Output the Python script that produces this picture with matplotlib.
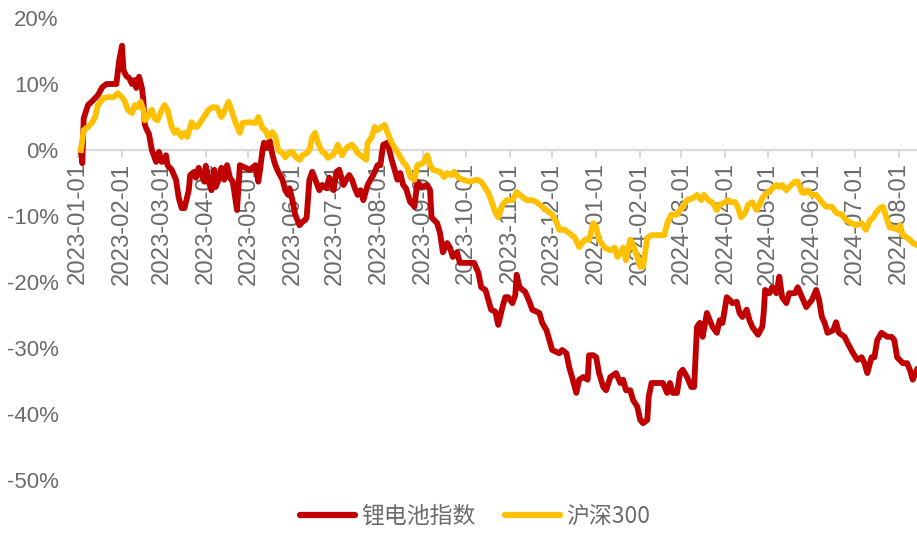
import pandas as pd
import numpy as np
import matplotlib
matplotlib.use('Agg')
import matplotlib.pyplot as plt
import matplotlib.dates as mdates
from matplotlib.ticker import FuncFormatter

# 锂电池指数 cumulative return (%)
lithium_dates = [
    '2023-01-03', '2023-01-04', '2023-01-05', '2023-01-08', '2023-01-11', '2023-01-15', '2023-01-18', '2023-01-21',
    '2023-01-28', '2023-01-30', '2023-02-01', '2023-02-02', '2023-02-04', '2023-02-06', '2023-02-08', '2023-02-10',
    '2023-02-11', '2023-02-13', '2023-02-15', '2023-02-16', '2023-02-17', '2023-02-18', '2023-02-20', '2023-02-22',
    '2023-02-24', '2023-02-25', '2023-02-27', '2023-03-01', '2023-03-03', '2023-03-04', '2023-03-05', '2023-03-08',
    '2023-03-11', '2023-03-13', '2023-03-15', '2023-03-17', '2023-03-20', '2023-03-21', '2023-03-24', '2023-03-25',
    '2023-03-27', '2023-03-29', '2023-03-31', '2023-04-01', '2023-04-03', '2023-04-05', '2023-04-07', '2023-04-08',
    '2023-04-10', '2023-04-12', '2023-04-14', '2023-04-16', '2023-04-18', '2023-04-20', '2023-04-23', '2023-04-25',
    '2023-04-28', '2023-05-02', '2023-05-06', '2023-05-08', '2023-05-09', '2023-05-11', '2023-05-12', '2023-05-14',
    '2023-05-16', '2023-05-18', '2023-05-20', '2023-05-22', '2023-05-25', '2023-05-27', '2023-05-29', '2023-05-30',
    '2023-06-01', '2023-06-03', '2023-06-06', '2023-06-08', '2023-06-10', '2023-06-11', '2023-06-13', '2023-06-15',
    '2023-06-18', '2023-06-20', '2023-06-22', '2023-06-25', '2023-06-27', '2023-06-30', '2023-07-02', '2023-07-04',
    '2023-07-07', '2023-07-09', '2023-07-11', '2023-07-13', '2023-07-15', '2023-07-17', '2023-07-19', '2023-07-21',
    '2023-07-24', '2023-07-26', '2023-07-28', '2023-07-31', '2023-08-02', '2023-08-04', '2023-08-07', '2023-08-10',
    '2023-08-12', '2023-08-14', '2023-08-16', '2023-08-18', '2023-08-20', '2023-08-23', '2023-08-25', '2023-08-26',
    '2023-08-28', '2023-08-31', '2023-09-04', '2023-09-06', '2023-09-07', '2023-09-11', '2023-09-13', '2023-09-15',
    '2023-09-18', '2023-09-20', '2023-09-22', '2023-09-25', '2023-09-27', '2023-10-02', '2023-10-07', '2023-10-10',
    '2023-10-12', '2023-10-15', '2023-10-17', '2023-10-19', '2023-10-22', '2023-10-24', '2023-10-27', '2023-10-29',
    '2023-10-31', '2023-11-03', '2023-11-05', '2023-11-06', '2023-11-08', '2023-11-12', '2023-11-15', '2023-11-17',
    '2023-11-22', '2023-11-24', '2023-11-27', '2023-11-29', '2023-12-01', '2023-12-04', '2023-12-06', '2023-12-08',
    '2023-12-11', '2023-12-13', '2023-12-15', '2023-12-18', '2023-12-20', '2023-12-23', '2023-12-26', '2023-12-27',
    '2023-12-30', '2024-01-01', '2024-01-03', '2024-01-06', '2024-01-08', '2024-01-11', '2024-01-13', '2024-01-15',
    '2024-01-18', '2024-01-20', '2024-01-22', '2024-01-25', '2024-01-27', '2024-01-30', '2024-02-01', '2024-02-03',
    '2024-02-06', '2024-02-07', '2024-02-09', '2024-02-13', '2024-02-17', '2024-02-20', '2024-02-22', '2024-02-24',
    '2024-02-27', '2024-02-29', '2024-03-02', '2024-03-05', '2024-03-08', '2024-03-10', '2024-03-12', '2024-03-14',
    '2024-03-16', '2024-03-19', '2024-03-21', '2024-03-23', '2024-03-26', '2024-03-28', '2024-03-30', '2024-04-02',
    '2024-04-04', '2024-04-06', '2024-04-09', '2024-04-11', '2024-04-13', '2024-04-16', '2024-04-18', '2024-04-20',
    '2024-04-24', '2024-04-27', '2024-04-28', '2024-04-29', '2024-05-02', '2024-05-04', '2024-05-07', '2024-05-09',
    '2024-05-11', '2024-05-14', '2024-05-16', '2024-05-20', '2024-05-22', '2024-05-25', '2024-05-28', '2024-06-01',
    '2024-06-04', '2024-06-06', '2024-06-08', '2024-06-10', '2024-06-12', '2024-06-16', '2024-06-18', '2024-06-20',
    '2024-06-24', '2024-06-26', '2024-06-30', '2024-07-03', '2024-07-06', '2024-07-08', '2024-07-10', '2024-07-13',
    '2024-07-15', '2024-07-17', '2024-07-20', '2024-07-24', '2024-07-27', '2024-07-29', '2024-07-31', '2024-08-04',
    '2024-08-07', '2024-08-09', '2024-08-11', '2024-08-14',
]
lithium_vals = [
    0.0, -2.0, 4.8, 6.8, 7.4, 8.3, 9.5, 10.0,
    10.0, 13.6, 15.8, 12.1, 11.2, 10.9, 10.0, 10.6,
    9.4, 11.1, 9.4, 7.6, 3.9, 3.3, 2.4, 0.0,
    -1.2, -1.8, -0.3, -1.8, -1.5, -0.8, -2.3, -3.0,
    -4.5, -7.3, -8.8, -8.8, -6.1, -3.8, -3.3, -4.2,
    -2.7, -3.8, -4.8, -2.4, -4.8, -6.1, -3.0, -5.6,
    -4.5, -2.7, -4.5, -2.3, -4.2, -4.8, -9.1, -2.3,
    -2.6, -3.0, -2.3, -4.8, -3.3, 0.0, 1.1, 0.3,
    1.4, -0.8, -2.3, -3.3, -4.5, -6.1, -6.8, -5.8,
    -7.6, -9.8, -11.4, -10.9, -10.6, -10.3, -4.5, -3.3,
    -5.0, -6.1, -5.3, -5.8, -4.2, -6.1, -3.3, -3.0,
    -5.3, -4.5, -3.8, -4.5, -5.8, -6.8, -6.1, -7.6,
    -5.3, -4.5, -3.8, -2.3, -2.3, 0.8, 1.1, -1.5,
    -3.0, -4.5, -3.5, -5.3, -5.8, -7.9, -8.3, -8.6,
    -4.8, -5.6, -5.3, -6.1, -10.2, -11.1, -12.6, -15.5,
    -14.1, -14.8, -16.2, -15.5, -17.1, -17.1, -17.1, -18.6,
    -20.8, -21.2, -22.7, -24.2, -24.5, -26.5, -23.8, -22.3,
    -22.3, -23.2, -22.0, -18.9, -20.8, -21.5, -23.0, -24.2,
    -24.7, -26.2, -27.3, -28.8, -30.3, -30.6, -30.8, -30.3,
    -30.8, -32.9, -34.4, -36.8, -34.8, -34.4, -34.8, -31.1,
    -31.1, -31.4, -33.8, -35.9, -36.4, -34.4, -34.1, -33.8,
    -35.3, -34.8, -36.4, -36.4, -37.9, -38.9, -40.9, -41.4,
    -40.9, -37.4, -35.3, -35.3, -35.3, -36.8, -35.3, -36.8,
    -36.8, -33.8, -33.3, -34.4, -35.9, -35.9, -26.8, -26.2,
    -28.3, -24.7, -25.8, -26.8, -27.7, -25.8, -26.2, -22.3,
    -22.7, -23.2, -23.0, -24.7, -25.3, -24.2, -25.8, -26.8,
    -28.0, -26.8, -24.7, -21.2, -21.7, -20.8, -21.7, -19.2,
    -22.3, -23.2, -21.7, -21.7, -20.8, -22.3, -23.8, -22.7,
    -21.2, -22.7, -25.3, -26.2, -27.7, -27.3, -26.1, -27.7,
    -28.3, -29.2, -30.8, -31.8, -31.4, -32.3, -33.8, -31.4,
    -31.4, -28.8, -27.7, -28.3, -28.3, -28.8, -31.4, -32.3,
    -32.3, -33.3, -34.8, -33.3,
]

# 沪深300 cumulative return (%)
hs300_dates = [
    '2023-01-03', '2023-01-04', '2023-01-05', '2023-01-08', '2023-01-11', '2023-01-13', '2023-01-15', '2023-01-19',
    '2023-01-22', '2023-01-26', '2023-01-29', '2023-02-01', '2023-02-03', '2023-02-05', '2023-02-08', '2023-02-10',
    '2023-02-12', '2023-02-14', '2023-02-16', '2023-02-17', '2023-02-19', '2023-02-22', '2023-02-24', '2023-02-26',
    '2023-03-01', '2023-03-03', '2023-03-05', '2023-03-08', '2023-03-10', '2023-03-12', '2023-03-15', '2023-03-17',
    '2023-03-19', '2023-03-22', '2023-03-24', '2023-03-26', '2023-03-30', '2023-04-03', '2023-04-06', '2023-04-09',
    '2023-04-12', '2023-04-14', '2023-04-17', '2023-04-19', '2023-04-22', '2023-04-25', '2023-04-27', '2023-05-01',
    '2023-05-06', '2023-05-08', '2023-05-11', '2023-05-13', '2023-05-15', '2023-05-18', '2023-05-20', '2023-05-22',
    '2023-05-25', '2023-05-27', '2023-05-29', '2023-06-01', '2023-06-04', '2023-06-06', '2023-06-08', '2023-06-11',
    '2023-06-13', '2023-06-15', '2023-06-17', '2023-06-19', '2023-06-22', '2023-06-24', '2023-06-26', '2023-06-29',
    '2023-07-01', '2023-07-03', '2023-07-06', '2023-07-08', '2023-07-10', '2023-07-13', '2023-07-15', '2023-07-17',
    '2023-07-21', '2023-07-23', '2023-07-24', '2023-07-27', '2023-07-29', '2023-07-31', '2023-08-03', '2023-08-05',
    '2023-08-07', '2023-08-10', '2023-08-14', '2023-08-16', '2023-08-18', '2023-08-21', '2023-08-23', '2023-08-26',
    '2023-08-28', '2023-09-01', '2023-09-04', '2023-09-06', '2023-09-08', '2023-09-13', '2023-09-16', '2023-09-18',
    '2023-09-21', '2023-09-23', '2023-09-26', '2023-09-29', '2023-10-04', '2023-10-09', '2023-10-12', '2023-10-15',
    '2023-10-17', '2023-10-19', '2023-10-22', '2023-10-24', '2023-10-27', '2023-10-30', '2023-11-03', '2023-11-06',
    '2023-11-10', '2023-11-13', '2023-11-17', '2023-11-20', '2023-11-24', '2023-11-27', '2023-12-01', '2023-12-04',
    '2023-12-06', '2023-12-10', '2023-12-13', '2023-12-17', '2023-12-20', '2023-12-24', '2023-12-27', '2023-12-30',
    '2024-01-01', '2024-01-03', '2024-01-07', '2024-01-11', '2024-01-14', '2024-01-16', '2024-01-20', '2024-01-22',
    '2024-01-25', '2024-01-27', '2024-01-30', '2024-02-01', '2024-02-03', '2024-02-06', '2024-02-09', '2024-02-15',
    '2024-02-18', '2024-02-20', '2024-02-23', '2024-02-27', '2024-02-29', '2024-03-02', '2024-03-05', '2024-03-09',
    '2024-03-12', '2024-03-15', '2024-03-17', '2024-03-20', '2024-03-23', '2024-03-26', '2024-03-28', '2024-03-31',
    '2024-04-03', '2024-04-05', '2024-04-08', '2024-04-10', '2024-04-12', '2024-04-15', '2024-04-17', '2024-04-20',
    '2024-04-23', '2024-04-25', '2024-04-27', '2024-04-30', '2024-05-02', '2024-05-04', '2024-05-07', '2024-05-09',
    '2024-05-11', '2024-05-14', '2024-05-16', '2024-05-20', '2024-05-22', '2024-05-25', '2024-05-27', '2024-05-29',
    '2024-06-01', '2024-06-04', '2024-06-08', '2024-06-11', '2024-06-15', '2024-06-18', '2024-06-22', '2024-06-25',
    '2024-06-29', '2024-07-02', '2024-07-06', '2024-07-09', '2024-07-12', '2024-07-14', '2024-07-16', '2024-07-19',
    '2024-07-21', '2024-07-24', '2024-07-26', '2024-07-28', '2024-07-31', '2024-08-02', '2024-08-04', '2024-08-07',
    '2024-08-09', '2024-08-11', '2024-08-14',
]
hs300_vals = [
    0.0, 1.5, 3.0, 3.5, 4.2, 5.0, 6.8, 7.9,
    8.0, 8.0, 8.6, 8.0, 7.3, 6.1, 5.6, 6.8,
    6.5, 7.3, 6.1, 4.5, 5.0, 6.1, 4.8, 4.5,
    6.1, 6.8, 6.1, 3.5, 2.6, 3.0, 2.0, 2.6,
    2.0, 4.2, 3.5, 3.5, 4.8, 6.1, 6.5, 6.4,
    5.0, 5.8, 7.3, 6.1, 4.1, 2.6, 4.1, 4.2,
    4.1, 5.0, 3.3, 3.0, 2.0, 2.7, 2.0, 0.0,
    -0.5, -1.1, -0.5, -0.3, -1.2, -1.5, -0.8, -0.5,
    0.0, 2.0, 2.6, 1.1, -0.3, -0.5, -1.2, -0.8,
    -0.3, 0.8, -0.8, 0.0, 0.5, 0.8, 0.3, -0.5,
    -1.1, -1.5, 1.1, 2.0, 3.5, 3.0, 3.5, 3.8,
    2.6, 1.1, -0.3, -1.1, -1.8, -2.6, -4.1, -4.5,
    -2.3, -2.0, -0.8, -2.3, -3.0, -3.3, -4.1, -3.5,
    -3.8, -3.3, -4.2, -4.5, -4.8, -4.5, -4.8, -5.8,
    -6.5, -7.6, -9.5, -10.2, -8.3, -7.6, -7.6, -6.4,
    -7.1, -7.6, -7.6, -7.9, -8.6, -9.1, -9.8, -10.9,
    -12.1, -12.1, -12.6, -13.3, -14.7, -13.6, -13.6, -11.1,
    -11.7, -13.6, -14.8, -15.2, -14.8, -16.2, -14.8, -16.7,
    -13.6, -14.4, -16.2, -17.7, -17.7, -13.3, -12.9, -12.9,
    -12.9, -11.1, -9.8, -9.8, -9.1, -8.6, -7.6, -7.3,
    -6.8, -7.6, -6.8, -7.6, -8.0, -9.1, -8.3, -8.0,
    -7.6, -7.9, -7.9, -8.8, -10.2, -9.5, -8.3, -7.9,
    -9.1, -8.3, -7.3, -6.5, -6.4, -5.8, -5.3, -5.6,
    -5.3, -6.1, -5.6, -4.8, -4.8, -6.4, -6.5, -6.1,
    -6.8, -6.8, -7.9, -8.6, -8.6, -9.5, -9.8, -10.6,
    -11.1, -11.4, -11.1, -12.1, -10.6, -10.3, -9.5, -8.8,
    -8.6, -10.6, -11.8, -11.7, -12.1, -11.4, -12.9, -13.3,
    -13.6, -14.1, -14.4,
]

series_names = ['锂电池指数', '沪深300']
series_colors = ['#C00000', '#FFC000']

gray = '#6b6b6b'
axis_gray = '#d9d9d9'

df_li = pd.DataFrame({'date': pd.to_datetime(lithium_dates), 'ret': lithium_vals})
df_hs = pd.DataFrame({'date': pd.to_datetime(hs300_dates), 'ret': hs300_vals})

fig = plt.figure(figsize=(9.17, 5.42), dpi=100)
ax = fig.add_axes([0.0851, 0.1144, 0.9149, 0.8524])

ax.plot(df_li['date'], df_li['ret'], color=series_colors[0], lw=4.2,
        solid_joinstyle='round', label=series_names[0], zorder=3)
ax.plot(df_hs['date'], df_hs['ret'], color=series_colors[1], lw=4.2,
        solid_joinstyle='round', label=series_names[1], zorder=4)

ax.set_xlim(pd.Timestamp('2023-01-01'), pd.Timestamp('2024-08-14'))
ax.set_ylim(-50, 20)
ax.set_yticks(np.arange(-50, 21, 10))
ax.yaxis.set_major_formatter(FuncFormatter(lambda v, p: f'{v:.0f}%'))

# month ticks sit on the zero line
ax.xaxis.set_major_locator(mdates.MonthLocator())
ax.xaxis.set_major_formatter(mdates.DateFormatter('%Y-%m-%d'))
for s in ['top', 'right', 'left']:
    ax.spines[s].set_visible(False)
ax.spines['bottom'].set_position(('data', 0))
ax.spines['bottom'].set_color(axis_gray)
ax.spines['bottom'].set_linewidth(1.6)

ax.tick_params(axis='x', direction='out', length=6, width=1.4, color=axis_gray,
               labelcolor=gray, labelrotation=90, pad=3)
ax.tick_params(axis='y', length=0, labelcolor=gray, pad=14)
for lab in ax.get_xticklabels():
    lab.set_fontfamily(['Liberation Sans', 'DejaVu Sans'])
    lab.set_fontsize(17.2)
for lab in ax.get_yticklabels():
    lab.set_fontfamily(['Liberation Sans', 'DejaVu Sans'])
    lab.set_fontsize(16)

leg = fig.legend(loc='lower center', bbox_to_anchor=(0.518, -0.012), ncol=2, frameon=False,
                 handlelength=2.4, handletextpad=0.25, columnspacing=1.3,
                 prop={'family': ['Noto Sans CJK SC', 'DejaVu Sans'], 'size': 16.5})
for t in leg.get_texts():
    t.set_color(gray)
for h in leg.get_lines():
    h.set_linewidth(4.5)
    h.set_solid_capstyle('round')

fig.savefig('out.png', dpi=100)
